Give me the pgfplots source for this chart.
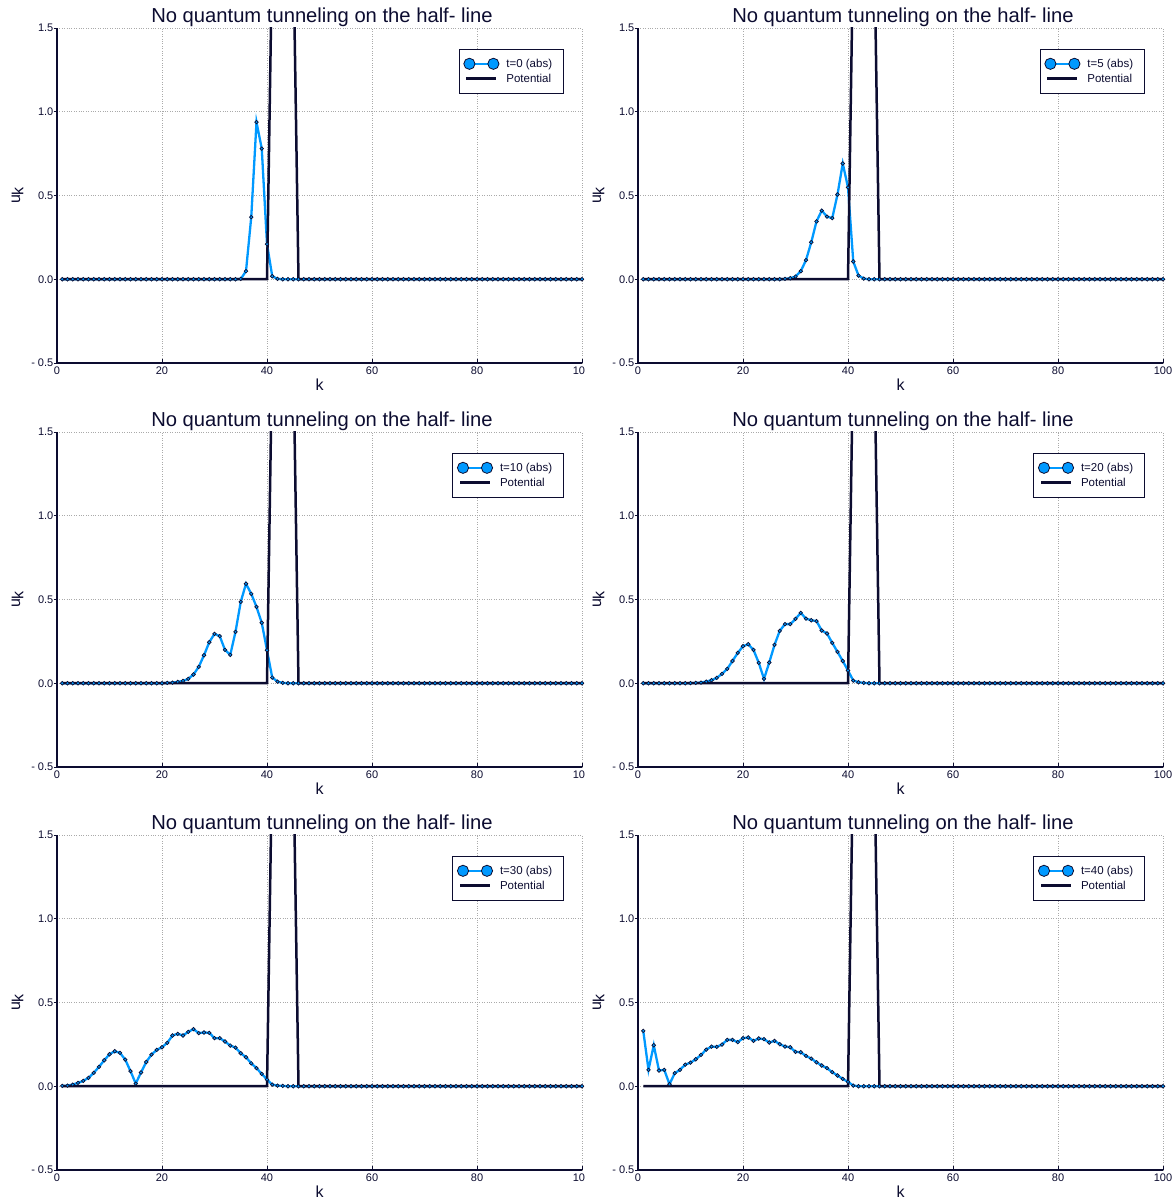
\documentclass[border=0pt]{standalone}
\usepackage{fontspec}
\setmainfont{Liberation Sans}
\usepackage{pgfplots}
\pgfplotsset{compat=1.18}
\usepackage{pgfplotstable}

\definecolor{wave}{RGB}{0,153,255}
\definecolor{navy}{RGB}{12,12,48}
\definecolor{gridc}{RGB}{170,170,170}

% |u_k| at t = 0, 5, 10, 20, 30, 40 on sites k = 1..100
\pgfplotstableread{
k t0 t5 t10 t20 t30 t40
1 0 0 0 0 0.002 0.331
2 0 0 0 0 0.004 0.098
3 0 0 0 0 0.010 0.245
4 0 0 0 0 0.020 0.094
5 0 0 0 0 0.032 0.098
6 0 0 0 0 0.050 0.012
7 0 0 0 0 0.080 0.078
8 0 0 0 0 0.116 0.098
9 0 0 0 0 0.155 0.129
10 0 0 0 0.001 0.191 0.141
11 0 0 0 0.002 0.209 0.161
12 0 0 0 0.004 0.199 0.187
13 0 0 0 0.010 0.159 0.219
14 0 0 0 0.018 0.090 0.237
15 0 0 0 0.032 0.016 0.235
16 0 0 0 0.056 0.082 0.249
17 0 0 0 0.086 0.145 0.277
18 0 0 0 0.133 0.189 0.277
19 0 0 0 0.181 0.217 0.263
20 0 0 0 0.221 0.233 0.287
21 0 0 0.002 0.233 0.259 0.291
22 0 0 0.004 0.199 0.303 0.271
23 0 0 0.008 0.122 0.313 0.285
24 0 0 0.014 0.026 0.303 0.281
25 0 0 0.026 0.124 0.325 0.261
26 0 0 0.052 0.229 0.341 0.271
27 0 0 0.098 0.313 0.317 0.251
28 0 0.002 0.167 0.353 0.321 0.237
29 0 0.006 0.245 0.353 0.319 0.233
30 0 0.016 0.295 0.384 0.287 0.205
31 0 0.048 0.281 0.420 0.287 0.203
32 0 0.114 0.199 0.386 0.267 0.181
33 0 0.221 0.169 0.376 0.243 0.165
34 0 0.345 0.307 0.371 0.231 0.143
35 0.002 0.410 0.486 0.315 0.197 0.124
36 0.048 0.374 0.594 0.297 0.173 0.108
37 0.371 0.365 0.534 0.241 0.137 0.084
38 0.938 0.506 0.456 0.187 0.108 0.064
39 0.780 0.691 0.361 0.133 0.074 0.044
40 0.210 0.548 0.197 0.076 0.040 0.026
41 0.018 0.106 0.034 0.016 0.010 0.004
42 0.002 0.022 0.010 0.006 0.004 0
43 0 0.004 0.002 0.002 0.002 0
44 0 0 0 0 0 0
45 0 0 0 0 0 0
46 0 0 0 0 0 0
47 0 0 0 0 0 0
48 0 0 0 0 0 0
49 0 0 0 0 0 0
50 0 0 0 0 0 0
51 0 0 0 0 0 0
52 0 0 0 0 0 0
53 0 0 0 0 0 0
54 0 0 0 0 0 0
55 0 0 0 0 0 0
56 0 0 0 0 0 0
57 0 0 0 0 0 0
58 0 0 0 0 0 0
59 0 0 0 0 0 0
60 0 0 0 0 0 0
61 0 0 0 0 0 0
62 0 0 0 0 0 0
63 0 0 0 0 0 0
64 0 0 0 0 0 0
65 0 0 0 0 0 0
66 0 0 0 0 0 0
67 0 0 0 0 0 0
68 0 0 0 0 0 0
69 0 0 0 0 0 0
70 0 0 0 0 0 0
71 0 0 0 0 0 0
72 0 0 0 0 0 0
73 0 0 0 0 0 0
74 0 0 0 0 0 0
75 0 0 0 0 0 0
76 0 0 0 0 0 0
77 0 0 0 0 0 0
78 0 0 0 0 0 0
79 0 0 0 0 0 0
80 0 0 0 0 0 0
81 0 0 0 0 0 0
82 0 0 0 0 0 0
83 0 0 0 0 0 0
84 0 0 0 0 0 0
85 0 0 0 0 0 0
86 0 0 0 0 0 0
87 0 0 0 0 0 0
88 0 0 0 0 0 0
89 0 0 0 0 0 0
90 0 0 0 0 0 0
91 0 0 0 0 0 0
92 0 0 0 0 0 0
93 0 0 0 0 0 0
94 0 0 0 0 0 0
95 0 0 0 0 0 0
96 0 0 0 0 0 0
97 0 0 0 0 0 0
98 0 0 0 0 0 0
99 0 0 0 0 0 0
100 0 0 0 0 0 0
}\wavedata

% barrier potential: V = 2 on sites 41..45
\pgfplotstableread{
k V
1 0
40 0
41 2
45 2
46 0
100 0
}\potdata

\pgfplotsset{
  panel/.style={
    width=525pt, height=335pt, scale only axis,
    anchor=south west,
    xmin=0, xmax=100, ymin=-0.5, ymax=1.5,
    xtick={0,20,40,60,80,100}, xticklabels={0,20,40,60,80,100},
    ytick={-0.5,0,0.5,1,1.5}, yticklabels={- 0.5,0.0,0.5,1.0,1.5},
    axis x line*=bottom, axis y line*=left,
    axis line style={navy, line width=1.2pt, -},
    xtick align=inside, ytick align=outside,
    major tick length=3.5pt,
    tick style={navy, line width=0.8pt},
    grid=major,
    grid style={gridc, dotted, line width=0.7pt},
    ticklabel style={font=\fontsize{11}{11}\selectfont, text=navy},
    xticklabel style={anchor=north, inner sep=0pt, yshift=-4pt},
    yticklabel style={anchor=east, inner sep=0pt},
    title={No quantum tunneling on the half- line},
    every axis title/.style={at={([xshift=2.5pt,yshift=5pt]axis description cs:0.5,1)}, anchor=base,
      font=\fontsize{20.2}{20.2}\selectfont, text=navy, inner sep=0pt},
    xlabel={k},
    ylabel={u\raisebox{-0.4ex}{k}},
    every axis x label/.style={at={([yshift=-27.5pt]axis description cs:0.5,0)}, anchor=base,
      font=\fontsize{16}{16}\selectfont, text=navy, inner sep=0pt},
    every axis y label/.style={at={([xshift=-37pt]axis description cs:0,0.5)}, anchor=base,
      rotate=90, font=\fontsize{16}{16}\selectfont, text=navy, inner sep=0pt},
    legend style={at={([xshift=-18pt,yshift=-21pt]axis description cs:1,1)}, anchor=north east,
      draw=navy, line width=0.8pt, fill=white, font=\fontsize{11.5}{11.5}\selectfont,
      inner xsep=4.5pt, inner ysep=7.5pt, text=navy, row sep=1pt,
      nodes={inner xsep=0pt},
      /tikz/every odd column/.append style={column sep=7pt}},
    legend cell align=left,
  },
  wave legend/.style={legend image code/.code={
      \draw[wave, line width=2.3pt] (0pt,0pt) -- (24pt,0pt);
      \draw[navy, line width=0.8pt, fill=wave] (0pt,0pt) circle (5.6pt) (24pt,0pt) circle (5.6pt);}},
  pot legend/.style={legend image code/.code={
      \draw[navy, line width=2.5pt] (-3pt,0pt) -- (27pt,0pt);}},
}

% one panel: #1,#2 = lower-left corner of the axis, #3 = column of the table, #4 = legend text
\newcommand{\panel}[4]{%
  \begin{axis}[panel, at={(#1pt,#2pt)}]
    \addlegendimage{wave legend}\addlegendentry{#4\hspace*{7pt}}
    \addlegendimage{pot legend}\addlegendentry{Potential\hspace*{7pt}}
    \addplot[wave, line width=2.3pt, no markers, forget plot] table[x=k, y=#3] {\wavedata};
    \addplot[navy, line width=2.5pt, no markers, forget plot] table[x=k, y=V] {\potdata};
    \addplot[only marks, mark=*, mark size=1.8pt,
      mark options={fill=wave, draw=navy, line width=0.7pt}, forget plot]
      table[x=k, y=#3] {\wavedata};
  \end{axis}}

\begin{document}
\begin{tikzpicture}
  \begin{scope}
    \clip (-20pt,-20pt) rectangle (584pt,1220pt);
    \panel{57}{837}{t0}{t=0 (abs)}
    \panel{57}{433}{t10}{t=10 (abs)}
    \panel{57}{30}{t30}{t=30 (abs)}
  \end{scope}
  \panel{638}{837}{t5}{t=5 (abs)}
  \panel{638}{433}{t20}{t=20 (abs)}
  \panel{638}{30}{t40}{t=40 (abs)}
  \pgfresetboundingbox
  \path[use as bounding box] (0pt,0pt) rectangle (1171pt,1200pt);
\end{tikzpicture}
\end{document}
